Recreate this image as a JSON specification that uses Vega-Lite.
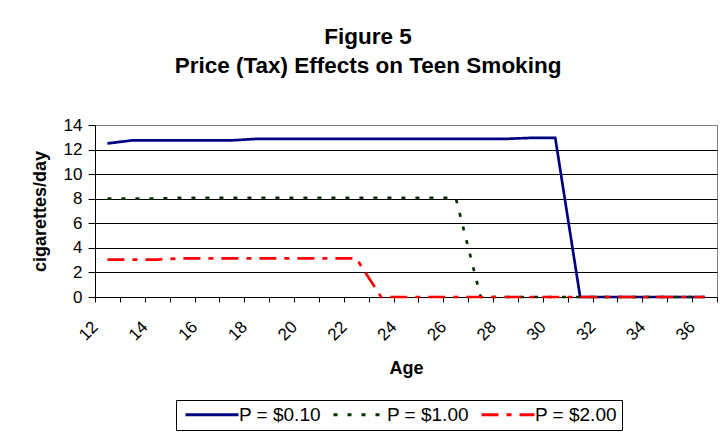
{
  "$schema": "https://vega.github.io/schema/vega-lite/v6.json",
  "width": 622,
  "height": 172,
  "autosize": {"type": "none"},
  "padding": {"left": 95, "top": 125, "right": 3, "bottom": 137},
  "background": "white",
  "title": {
    "text": ["Figure 5", "Price (Tax) Effects on Teen Smoking"],
    "font": "Liberation Sans",
    "fontSize": 22.5,
    "fontWeight": "bold",
    "color": "black",
    "anchor": "middle",
    "dx": -38,
    "lineHeight": 29,
    "offset": 39
  },
  "data": {
    "values": [
      {"Age": 12, "P": "P = $0.10", "cig": 12.5},
      {"Age": 13, "P": "P = $0.10", "cig": 12.75},
      {"Age": 14, "P": "P = $0.10", "cig": 12.75},
      {"Age": 15, "P": "P = $0.10", "cig": 12.75},
      {"Age": 16, "P": "P = $0.10", "cig": 12.75},
      {"Age": 17, "P": "P = $0.10", "cig": 12.75},
      {"Age": 18, "P": "P = $0.10", "cig": 12.87},
      {"Age": 19, "P": "P = $0.10", "cig": 12.87},
      {"Age": 20, "P": "P = $0.10", "cig": 12.87},
      {"Age": 21, "P": "P = $0.10", "cig": 12.87},
      {"Age": 22, "P": "P = $0.10", "cig": 12.87},
      {"Age": 23, "P": "P = $0.10", "cig": 12.87},
      {"Age": 24, "P": "P = $0.10", "cig": 12.87},
      {"Age": 25, "P": "P = $0.10", "cig": 12.87},
      {"Age": 26, "P": "P = $0.10", "cig": 12.87},
      {"Age": 27, "P": "P = $0.10", "cig": 12.87},
      {"Age": 28, "P": "P = $0.10", "cig": 12.87},
      {"Age": 29, "P": "P = $0.10", "cig": 12.95},
      {"Age": 30, "P": "P = $0.10", "cig": 12.95},
      {"Age": 31, "P": "P = $0.10", "cig": 0},
      {"Age": 32, "P": "P = $0.10", "cig": 0},
      {"Age": 33, "P": "P = $0.10", "cig": 0},
      {"Age": 34, "P": "P = $0.10", "cig": 0},
      {"Age": 35, "P": "P = $0.10", "cig": 0},
      {"Age": 36, "P": "P = $0.10", "cig": 0},
      {"Age": 12, "P": "P = $1.00", "cig": 8.0},
      {"Age": 13, "P": "P = $1.00", "cig": 8.0},
      {"Age": 14, "P": "P = $1.00", "cig": 8.0},
      {"Age": 15, "P": "P = $1.00", "cig": 8.08},
      {"Age": 16, "P": "P = $1.00", "cig": 8.08},
      {"Age": 17, "P": "P = $1.00", "cig": 8.08},
      {"Age": 18, "P": "P = $1.00", "cig": 8.08},
      {"Age": 19, "P": "P = $1.00", "cig": 8.08},
      {"Age": 20, "P": "P = $1.00", "cig": 8.08},
      {"Age": 21, "P": "P = $1.00", "cig": 8.08},
      {"Age": 22, "P": "P = $1.00", "cig": 8.08},
      {"Age": 23, "P": "P = $1.00", "cig": 8.08},
      {"Age": 24, "P": "P = $1.00", "cig": 8.08},
      {"Age": 25, "P": "P = $1.00", "cig": 8.08},
      {"Age": 26, "P": "P = $1.00", "cig": 8.08},
      {"Age": 27, "P": "P = $1.00", "cig": 0},
      {"Age": 28, "P": "P = $1.00", "cig": 0},
      {"Age": 29, "P": "P = $1.00", "cig": 0},
      {"Age": 30, "P": "P = $1.00", "cig": 0},
      {"Age": 31, "P": "P = $1.00", "cig": 0},
      {"Age": 32, "P": "P = $1.00", "cig": 0},
      {"Age": 33, "P": "P = $1.00", "cig": 0},
      {"Age": 34, "P": "P = $1.00", "cig": 0},
      {"Age": 35, "P": "P = $1.00", "cig": 0},
      {"Age": 36, "P": "P = $1.00", "cig": 0},
      {"Age": 12, "P": "P = $2.00", "cig": 3.05},
      {"Age": 13, "P": "P = $2.00", "cig": 3.05},
      {"Age": 14, "P": "P = $2.00", "cig": 3.05},
      {"Age": 15, "P": "P = $2.00", "cig": 3.15},
      {"Age": 16, "P": "P = $2.00", "cig": 3.15},
      {"Age": 17, "P": "P = $2.00", "cig": 3.15},
      {"Age": 18, "P": "P = $2.00", "cig": 3.15},
      {"Age": 19, "P": "P = $2.00", "cig": 3.15},
      {"Age": 20, "P": "P = $2.00", "cig": 3.15},
      {"Age": 21, "P": "P = $2.00", "cig": 3.15},
      {"Age": 22, "P": "P = $2.00", "cig": 3.15},
      {"Age": 23, "P": "P = $2.00", "cig": 0},
      {"Age": 24, "P": "P = $2.00", "cig": 0},
      {"Age": 25, "P": "P = $2.00", "cig": 0},
      {"Age": 26, "P": "P = $2.00", "cig": 0},
      {"Age": 27, "P": "P = $2.00", "cig": 0},
      {"Age": 28, "P": "P = $2.00", "cig": 0},
      {"Age": 29, "P": "P = $2.00", "cig": 0},
      {"Age": 30, "P": "P = $2.00", "cig": 0},
      {"Age": 31, "P": "P = $2.00", "cig": 0},
      {"Age": 32, "P": "P = $2.00", "cig": 0},
      {"Age": 33, "P": "P = $2.00", "cig": 0},
      {"Age": 34, "P": "P = $2.00", "cig": 0},
      {"Age": 35, "P": "P = $2.00", "cig": 0},
      {"Age": 36, "P": "P = $2.00", "cig": 0}
    ]
  },
  "mark": {"type": "line", "strokeWidth": 2.7, "strokeCap": "butt"},
  "encoding": {
    "x": {
      "field": "Age",
      "type": "quantitative",
      "scale": {"domain": [11.5, 36.5], "nice": false, "zero": false},
      "axis": {
        "title": "Age",
        "values": [11.5, 12.5, 13.5, 14.5, 15.5, 16.5, 17.5, 18.5, 19.5, 20.5, 21.5, 22.5, 23.5, 24.5, 25.5, 26.5, 27.5, 28.5, 29.5, 30.5, 31.5, 32.5, 33.5, 34.5, 35.5, 36.5],
        "labelExpr": "(datum.value + 0.5) % 2 == 0 ? format(datum.value + 0.5, 'd') : ''",
        "labelAngle": -45,
        "labelAlign": "right",
        "labelBaseline": "middle",
        "labelPadding": 22,
        "labelOverlap": false,
        "labelFlush": false,
        "labelBound": false,
        "grid": false,
        "tickSize": 5,
        "tickColor": "black",
        "domainColor": "black",
        "titlePadding": 16
      }
    },
    "y": {
      "field": "cig",
      "type": "quantitative",
      "scale": {"domain": [0, 14], "nice": false},
      "axis": {
        "title": "cigarettes/day",
        "values": [0, 2, 4, 6, 8, 10, 12, 14],
        "grid": true,
        "gridColor": {"condition": {"test": "datum.value == 14", "value": "#808080"}, "value": "black"},
        "gridOpacity": 1,
        "tickSize": 7,
        "tickColor": "black",
        "domainColor": "black",
        "labelPadding": 6,
        "titlePadding": 14
      }
    },
    "color": {
      "field": "P",
      "type": "nominal",
      "scale": {"domain": ["P = $0.10", "P = $1.00", "P = $2.00"], "range": ["#000080", "#003300", "#FF0000"]},
      "legend": {
        "title": null,
        "orient": "none",
        "direction": "horizontal",
        "legendX": 81,
        "legendY": 275,
        "strokeColor": "black",
        "padding": 5,
        "symbolType": "M -1 0 H 9.6",
        "symbolSize": 100,
        "symbolStrokeWidth": 3,
        "labelFontSize": 19,
        "labelFont": "Liberation Sans",
        "labelColor": "black",
        "labelOffset": 39,
        "columnPadding": 6,
        "labelLimit": 300
      }
    },
    "strokeDash": {
      "field": "P",
      "type": "nominal",
      "scale": {"domain": ["P = $0.10", "P = $1.00", "P = $2.00"], "range": [[1, 0], [4, 10], [17, 8, 5, 8]]},
      "legend": null
    }
  },
  "config": {
    "view": {"stroke": "#808080", "strokeWidth": 1},
    "font": "Liberation Sans",
    "axis": {
      "labelFont": "Liberation Sans",
      "labelFontSize": 17,
      "labelColor": "black",
      "titleFont": "Liberation Sans",
      "titleFontSize": 18,
      "titleFontWeight": "bold",
      "titleColor": "black",
      "domainWidth": 1,
      "tickWidth": 1,
      "gridWidth": 1
    }
  }
}
